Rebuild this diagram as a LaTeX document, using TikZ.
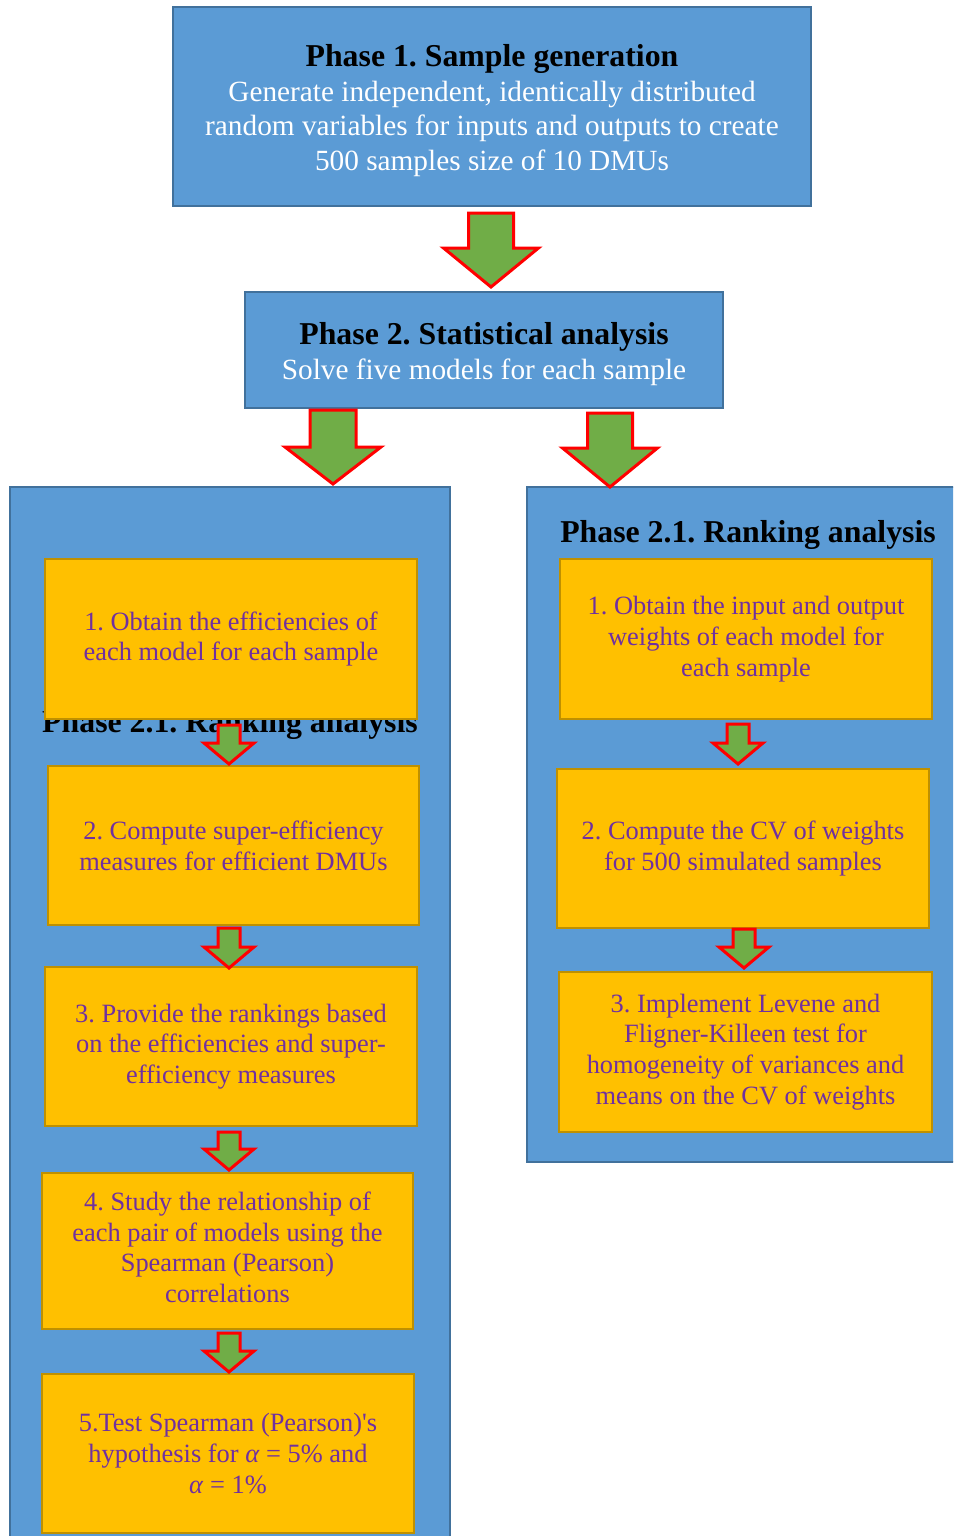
\documentclass[tikz,border=0pt]{standalone}
\usepackage{fontspec}
\setmainfont{Liberation Serif}
\usetikzlibrary{calc}
\definecolor{bluefill}{HTML}{5B9BD5}
\definecolor{blueline}{HTML}{41719C}
\definecolor{orfill}{HTML}{FFC000}
\definecolor{orline}{HTML}{BF9000}
\definecolor{purp}{HTML}{7030A0}
\definecolor{grn}{HTML}{70AD47}
\definecolor{redl}{HTML}{FF0000}
\newcommand{\blockarr}[5]{%
  \draw[barrow] let \p1=(#1), \p2=(#2) in
  (\x2-#3pt,\y1) -- (\x2+#3pt,\y1) -- (\x2+#3pt,\y2+#5pt) -- (\x2+#4pt,\y2+#5pt)
  -- (\x2,\y2) -- (\x2-#4pt,\y2+#5pt) -- (\x2-#3pt,\y2+#5pt) -- cycle;}
\newcommand{\alf}{\textit{α}}
\tikzset{
  phasebox/.style={draw=blueline, fill=bluefill, line width=2pt, rectangle, inner sep=0pt},
  stepbox/.style={draw=orline, fill=orfill, line width=2.5pt, rectangle, inner sep=0pt, align=center,
     text=purp, font=\fontsize{26.4}{30.7}\selectfont\frenchspacing},
  barrow/.style={draw=redl, fill=grn, line width=3pt, line join=miter},
  titletxt/.style={font=\fontsize{31.8}{34}\selectfont\bfseries\frenchspacing, text=black, inner sep=0pt},
  bodytxt/.style={font=\fontsize{29.3}{34.5}\selectfont, text=white, align=center, inner sep=0pt},
}
\begin{document}
\begin{tikzpicture}[x=1pt,y=-1pt]
\useasboundingbox (0,0) rectangle (953,1536);
\clip (0,0) rectangle (953,1536);
% Phase 1
\node[phasebox, minimum width=638pt, minimum height=199pt] (p1) at (492,106.5) {};
\node[titletxt, anchor=base] (p1t) at (492,67) {Phase 1. Sample generation};
\node[bodytxt, anchor=base] (p1b) at (492,170)
  {Generate independent, identically distributed\\
   random variables for inputs and outputs to create\\
   500 samples size of 10 DMUs};
% Phase 2
\node[phasebox, minimum width=478pt, minimum height=116pt] (p2) at (484,350) {};
\node[titletxt, anchor=base] (p2t) at (484,344) {Phase 2. Statistical analysis};
\node[bodytxt, anchor=base] (p2b) at (484,379) {Solve five models for each sample};
% column containers
\node[phasebox, minimum width=440pt, minimum height=1080pt] (lc) at (230,1027) {};
\node[phasebox, minimum width=438pt, minimum height=675pt] (rc) at (746,824.5) {};
\node[titletxt, anchor=base] (lt) at (230,732) {Phase 2.1. Ranking analysis};
\node[titletxt, anchor=base] (rt) at (748,542) {Phase 2.1. Ranking analysis};
% left steps
\node[stepbox, minimum width=372pt, minimum height=160pt] (L1) at (231,639)
  {1. Obtain the efficiencies of\\ each model for each sample\\[-25pt]};
\node[stepbox, minimum width=371pt, minimum height=159pt] (L2) at (233.5,845.5)
  {2. Compute super-efficiency\\ measures for efficient DMUs};
\node[stepbox, minimum width=372pt, minimum height=159pt] (L3) at (231,1046.5)
  {3. Provide the rankings based\\ on the efficiencies and super-\\ efficiency measures};
\node[stepbox, minimum width=371pt, minimum height=156pt] (L4) at (227.5,1251)
  {4. Study the relationship of\\ each pair of models using the\\ Spearman (Pearson)\\ correlations\\[-23pt]};
\node[stepbox, minimum width=372pt, minimum height=159pt] (L5) at (228,1453.5)
  {5.Test Spearman (Pearson)\textquotesingle s\\ hypothesis for \alf~=~5\% and\\ \alf~=~1\%};
% right steps
\node[stepbox, minimum width=372pt, minimum height=160pt] (R1) at (746,639)
  {1. Obtain the input and output\\ weights of each model for\\ each sample};
\node[stepbox, minimum width=372pt, minimum height=159pt] (R2) at (743,848.5)
  {2. Compute the CV of weights\\ for 500 simulated samples};
\node[stepbox, minimum width=373pt, minimum height=160pt] (R3) at (745.5,1052)
  {3. Implement Levene and\\ Fligner-Killeen test for\\ homogeneity of variances and\\ means on the CV of weights};
% arrow end points
\coordinate (a1s) at (491,213);  \coordinate (a1e) at (491,287);
\coordinate (a2s) at (333,410);  \coordinate (a2e) at (333,484);
\coordinate (a3s) at (610,413);  \coordinate (a3e) at (610,487);
\coordinate (l1s) at (229,725);  \coordinate (l1e) at (229,764);
\coordinate (l2s) at (229,928);  \coordinate (l2e) at (229,968);
\coordinate (l3s) at (229,1132); \coordinate (l3e) at (229,1170);
\coordinate (l4s) at (229,1333); \coordinate (l4e) at (229,1372);
\coordinate (r1s) at (738,724);  \coordinate (r1e) at (738,764);
\coordinate (r2s) at (744,929);  \coordinate (r2e) at (744,968);
\blockarr{a1s}{a1e}{22.5}{47.5}{39}
\blockarr{a2s}{a2e}{23}{48}{37}
\blockarr{a3s}{a3e}{22.5}{47.5}{39}
\blockarr{l1s}{l1e}{11}{25}{21}
\blockarr{l2s}{l2e}{11}{25}{21}
\blockarr{l3s}{l3e}{11}{25}{21}
\blockarr{l4s}{l4e}{11}{25}{21}
\blockarr{r1s}{r1e}{11}{25}{21}
\blockarr{r2s}{r2e}{11}{25}{21}
\end{tikzpicture}
\end{document}
